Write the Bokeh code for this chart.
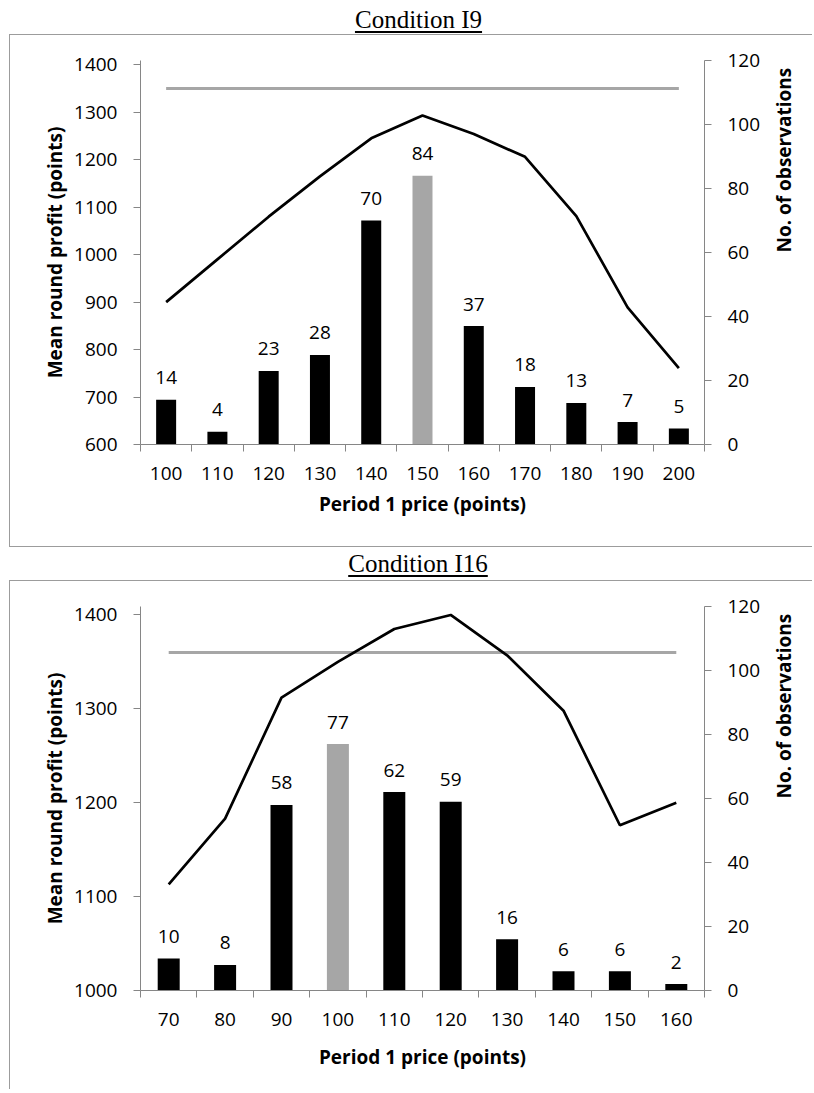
import math
from bokeh.plotting import figure
from bokeh.models import Range1d, LinearAxis, FixedTicker, Div
from bokeh.layouts import column
from bokeh.embed import file_html
from bokeh.resources import INLINE
from bokeh.core.properties import value

# ---------------- data ----------------
i9_title = "Condition I9"
i9_prices = [100, 110, 120, 130, 140, 150, 160, 170, 180, 190, 200]
i9_counts = [14, 4, 23, 28, 70, 84, 37, 18, 13, 7, 5]
i9_profit = [900, 990, 1080, 1165, 1245, 1293, 1254, 1206, 1081, 889, 761]
i9_benchmark = 1350
i9_highlight = 150
i9_left_ticks = [600, 700, 800, 900, 1000, 1100, 1200, 1300, 1400]

i16_title = "Condition I16"
i16_prices = [70, 80, 90, 100, 110, 120, 130, 140, 150, 160]
i16_counts = [10, 8, 58, 77, 62, 59, 16, 6, 6, 2]
i16_profit = [1113, 1183, 1312, 1350, 1385, 1400, 1357, 1298, 1176, 1200]
i16_benchmark = 1360
i16_highlight = 100
i16_left_ticks = [1000, 1100, 1200, 1300, 1400]

right_ticks = [0, 20, 40, 60, 80, 100, 120]

x_title = "Period 1 price (points)"
left_title = "Mean round profit (points)"
right_title = "No. of observations"

# ---------------- style ----------------
AXIS = "#868686"
BOX = "#9c9c9c"
GREY = "#a6a6a6"
SANS = "Open Sans"
PAGE_W = 814


def style_axis(ax):
    ax.axis_line_color = AXIS
    ax.axis_line_width = 1
    ax.major_tick_line_color = AXIS
    ax.minor_tick_line_color = AXIS
    ax.major_label_text_font = SANS
    ax.major_label_text_font_size = "19px"
    ax.major_label_text_color = "black"
    ax.axis_label_text_font = SANS
    ax.axis_label_text_font_style = "bold"
    ax.axis_label_text_font_size = "19px"
    ax.axis_label_text_color = "black"


def title_div(text, H, line_h, shift):
    html = ('<div style="display:block; width:%dpx; height:%dpx; line-height:%.1fpx; '
            'text-align:center; margin:0; padding:0; '
            'font-family:\'Liberation Serif\', serif; font-size:25px; '
            'color:black; white-space:nowrap;">'
            '<span style="position:relative; left:%.1fpx; text-decoration:underline; '
            'text-decoration-thickness:1.8px; text-underline-offset:2.5px;">%s</span></div>'
            % (PAGE_W, H, line_h, shift, text))
    return Div(text=html, width=PAGE_W, height=H,
               styles={"margin": "0", "padding": "0", "font-size": "25px",
                       "line-height": "%.1fpx" % line_h, "text-align": "center",
                       "font-family": "'Liberation Serif', serif"})


def make_panel(prices, counts, profit, benchmark, highlight, left_ticks,
               left_lo, left_hi, W, H, fl, ft, fr, fb, xlab_standoff, borders):
    step = prices[1] - prices[0]
    x0, x1 = prices[0] - step / 2, prices[-1] + step / 2
    p = figure(width=W, height=H, x_range=Range1d(x0, x1),
               y_range=Range1d(left_lo, left_hi),
               output_backend="svg", toolbar_location=None,
               min_border_left=fl, min_border_right=W - fr,
               min_border_top=ft, min_border_bottom=H - fb,
               margin=(0, 0, 0, 9))
    p.styles = {("border-" + side): "1px solid " + BOX for side in borders}
    p.outline_line_color = None
    p.xgrid.visible = False
    p.ygrid.visible = False
    p.extra_y_ranges = {"right": Range1d(0, 120)}

    # left axis
    ya = p.yaxis[0]
    style_axis(ya)
    ya.ticker = FixedTicker(ticks=left_ticks)
    ya.major_tick_out = 7
    ya.major_tick_in = 0
    ya.minor_tick_out = 0
    ya.minor_tick_in = 0
    ya.major_label_standoff = 16
    ya.axis_label = left_title
    ya.axis_label_standoff = 3

    # right axis
    ra = LinearAxis(y_range_name="right", ticker=FixedTicker(ticks=right_ticks))
    style_axis(ra)
    ra.major_tick_out = 7
    ra.major_tick_in = 0
    ra.minor_tick_out = 0
    ra.minor_tick_in = 0
    ra.major_label_standoff = 16
    ra.axis_label = right_title
    ra.axis_label_standoff = 21
    ra.axis_label_orientation = math.pi / 2
    p.add_layout(ra, "right")

    # x axis (tick marks between categories)
    xa = p.xaxis[0]
    style_axis(xa)
    bounds = [v - step / 2 for v in prices] + [prices[-1] + step / 2]
    xa.ticker = FixedTicker(ticks=prices, minor_ticks=bounds)
    xa.major_tick_out = 0
    xa.major_tick_in = 0
    xa.minor_tick_out = 7
    xa.minor_tick_in = 0
    xa.major_label_standoff = 15
    xa.axis_label = x_title
    xa.axis_label_standoff = xlab_standoff

    colors = [GREY if v == highlight else "black" for v in prices]
    p.vbar(x=prices, top=counts, bottom=0, width=step * 0.39, color=colors,
           line_color=None, y_range_name="right")
    p.line(x=prices, y=[benchmark] * len(prices), line_color=GREY, line_width=3.2)
    p.line(x=prices, y=profit, line_color="black", line_width=2.7)
    p.text(x=prices, y=counts, text=[str(c) for c in counts], y_range_name="right",
           text_align="center", text_baseline="alphabetic", y_offset=-22,
           text_font=value(SANS), text_font_size=value("19px"), text_color="black")
    return p


t1 = title_div(i9_title, 34, 39.0, 11.5)
p1 = make_panel(i9_prices, i9_counts, i9_profit, i9_benchmark, i9_highlight,
                i9_left_ticks, 600, 1409, 803, 513, 130, 25, 697, 409, 8,
                ["top", "left", "bottom"])
t2 = title_div(i16_title, 33, 33.7, 11.0)
p2 = make_panel(i16_prices, i16_counts, i16_profit, i16_benchmark, i16_highlight,
                i16_left_ticks, 1000, 1409, 803, 509, 129, 25, 697, 409, 15,
                ["top", "left"])

layout = column(t1, p1, t2, p2, spacing=0)
open("out.html", "w").write(file_html(layout, INLINE))
